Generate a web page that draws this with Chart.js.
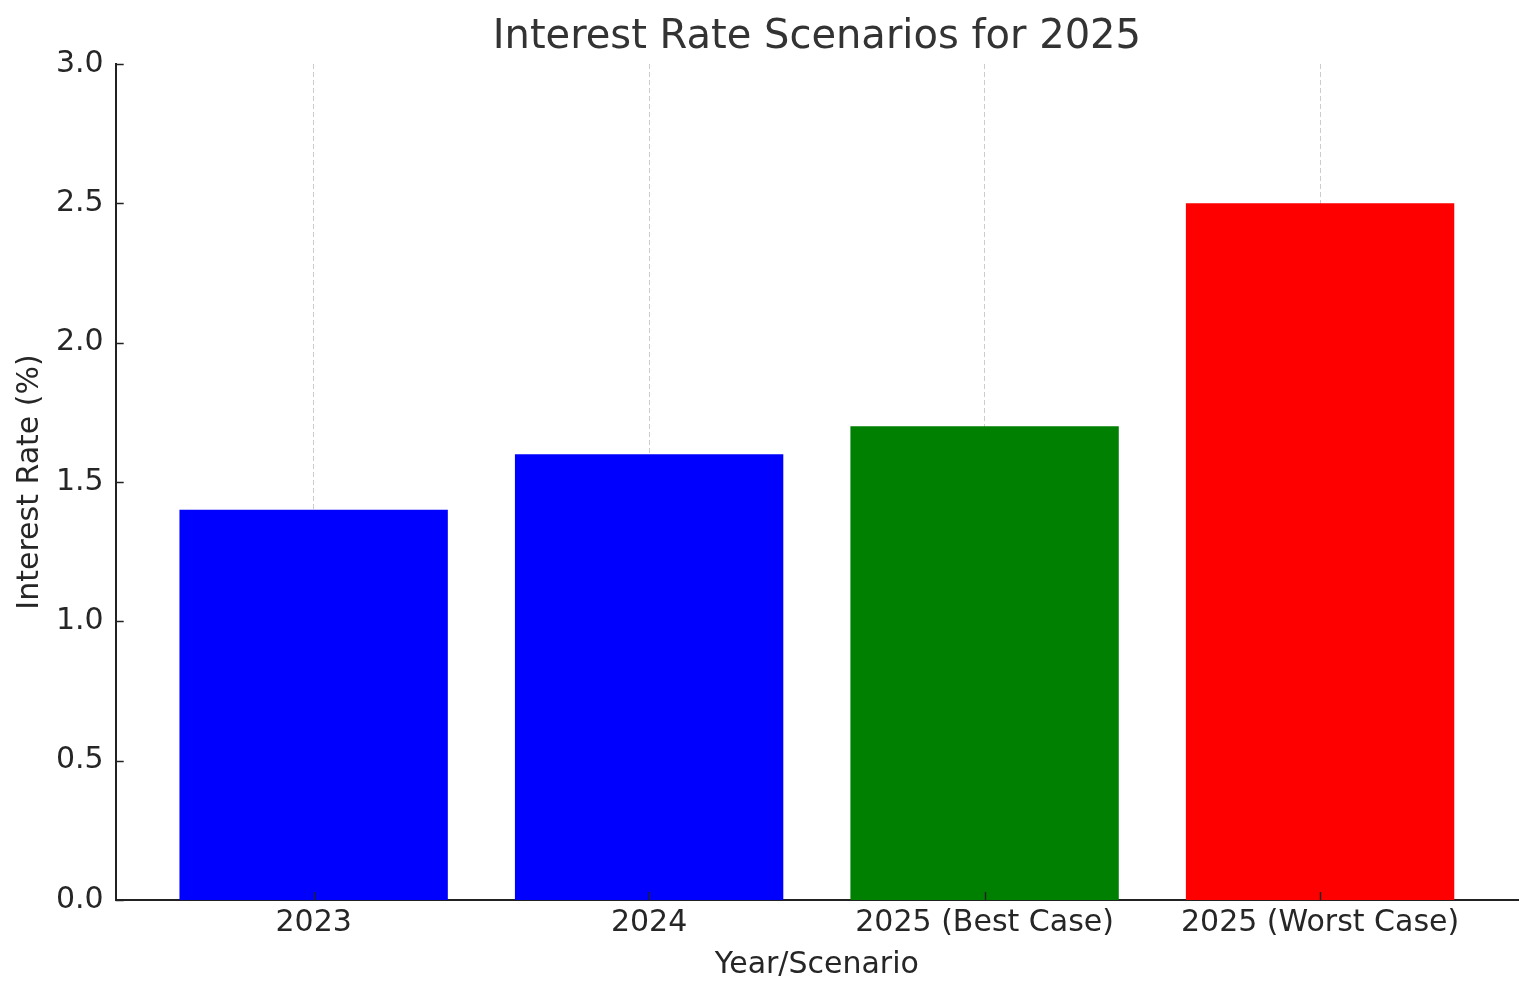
<!DOCTYPE html>
<html>
<head>
<meta charset="utf-8">
<script src="https://cdn.jsdelivr.net/npm/chart.js@4.4.1/dist/chart.umd.min.js"></script>
<style>
  html, body { margin: 0; padding: 0; background: #fff; }
  #chart { display: block; }
</style>
</head>
<body>
<canvas id="chart" width="1536" height="997"></canvas>
<script>
var categories = ["2023", "2024", "2025 (Best Case)", "2025 (Worst Case)"];
var rates = [1.4, 1.6, 1.7, 2.5];
var barColors = ["#0000ff", "#0000ff", "#008000", "#ff0000"];
var yTicks = [0, 0.5, 1.0, 1.5, 2.0, 2.5, 3.0];

var fontFamily = "'DejaVu Sans', sans-serif";
var textColor = "#262626";

// bars sit at 0..n-1 on a linear axis, so the side margins work like matplotlib's
var points = categories.map(function (c, i) { return { x: i, y: rates[i] }; });

// ticks pointing into the plot, as in the original
var innerTicks = {
    id: "innerTicks",
    afterDraw: function (chart) {
        var ctx = chart.ctx;
        var area = chart.chartArea;
        ctx.save();
        ctx.strokeStyle = "#222";
        ctx.lineWidth = 1.5;
        chart.scales.y.ticks.forEach(function (t) {
            var py = Math.round(chart.scales.y.getPixelForValue(t.value)) + 0.5;
            ctx.beginPath();
            ctx.moveTo(area.left, py);
            ctx.lineTo(area.left + 8, py);
            ctx.stroke();
        });
        chart.scales.x.ticks.forEach(function (t) {
            var px = Math.round(chart.scales.x.getPixelForValue(t.value)) + 0.5;
            ctx.beginPath();
            ctx.moveTo(px, area.bottom);
            ctx.lineTo(px, area.bottom - 8);
            ctx.stroke();
        });
        ctx.restore();
    }
};

new Chart(document.getElementById("chart"), {
    type: "bar",
    data: {
        datasets: [{
            data: points,
            backgroundColor: barColors,
            borderWidth: 0,
            categoryPercentage: 1,
            barPercentage: 0.8
        }]
    },
    options: {
        responsive: false,
        animation: false,
        devicePixelRatio: 1,
        layout: { padding: { left: 12, right: 18, top: 0, bottom: 14 } },
        plugins: {
            legend: { display: false },
            tooltip: { enabled: false },
            title: {
                display: true,
                fullSize: false,
                text: "Interest Rate Scenarios for 2025",
                color: "#333333",
                font: { family: fontFamily, size: 40, weight: "normal" },
                padding: { top: 14, bottom: 2 }
            }
        },
        scales: {
            x: {
                type: "linear",
                min: -0.59,
                max: 3.59,
                offset: false,
                z: 1,
                afterBuildTicks: function (scale) {
                    scale.ticks = categories.map(function (c, i) { return { value: i }; });
                },
                ticks: {
                    autoSkip: false,
                    maxRotation: 0,
                    padding: 5,
                    color: textColor,
                    font: { family: fontFamily, size: 30 },
                    callback: function (v) { return categories[v]; }
                },
                grid: {
                    offset: false,
                    drawTicks: false,
                    color: "#cccccc",
                    lineWidth: 1
                },
                border: { display: true, color: "#222", width: 2, dash: [5, 3] },
                title: {
                    display: true,
                    text: "Year/Scenario",
                    color: textColor,
                    font: { family: fontFamily, size: 30 },
                    padding: { top: 1, bottom: 0 }
                }
            },
            y: {
                min: 0,
                max: 3,
                afterBuildTicks: function (scale) {
                    scale.ticks = yTicks.map(function (v) { return { value: v }; });
                },
                ticks: {
                    padding: 12,
                    color: textColor,
                    font: { family: fontFamily, size: 30 },
                    callback: function (v) { return Number(v).toFixed(1); }
                },
                grid: { display: false, drawTicks: false },
                border: { display: true, color: "#222", width: 2 },
                title: {
                    display: true,
                    text: "Interest Rate (%)",
                    color: textColor,
                    font: { family: fontFamily, size: 30 },
                    padding: { top: 0, bottom: -4 }
                }
            }
        }
    },
    plugins: [innerTicks]
});
</script>
</body>
</html>
